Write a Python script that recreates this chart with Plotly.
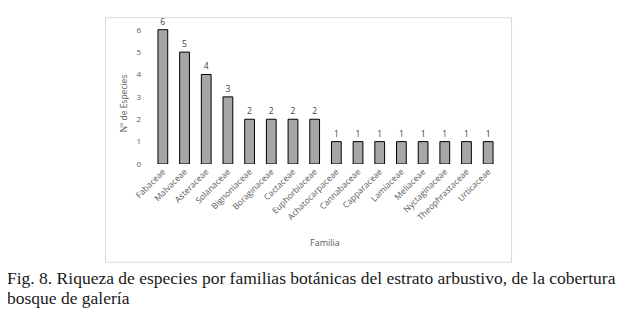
import plotly.graph_objects as go

familias = ["Fabaceae", "Malvaceae", "Asteraceae", "Solanaceae", "Bignoniaceae",
            "Boraginaceae", "Cactaceae", "Euphorbiaceae", "Achatocarpaceae",
            "Cannabaceae", "Capparaceae", "Lamiaceae", "Meliaceae",
            "Nyctaginaceae", "Theophrastaceae", "Urticaceae"]
especies = [6, 5, 4, 3, 2, 2, 2, 2, 1, 1, 1, 1, 1, 1, 1, 1]
y_ticks = [0, 1, 2, 3, 4, 5, 6]

W, H = 635, 315
OFF = 8  # page body margin
L, R, T, B = 151.6 - OFF, 635 - (499.4 - OFF), 23.3 - OFF, 315 - (164 - OFF)
PW, PH = W - L - R, H - T - B


def px(x):
    return (x - OFF - L) / PW


def py(y):
    return ((H - B) - (y - OFF)) / PH


fig = go.Figure()
fig.add_trace(go.Bar(
    x=familias, y=especies,
    marker=dict(color="#A6A6A6", line=dict(color="#000000", width=1)),
    width=0.45,
    text=[str(v) for v in especies], textposition="outside",
    textfont=dict(family="Open Sans", size=8.5, color="#404040"),
    cliponaxis=False,
))

fig.update_layout(
    width=W, height=H,
    margin=dict(l=L, r=R, t=T, b=B, pad=0),
    paper_bgcolor="white", plot_bgcolor="white",
    showlegend=False,
    xaxis=dict(
        tickangle=-45, showline=False, showgrid=False, ticks="",
        tickfont=dict(family="Open Sans", size=8.5, color="#595959"),
        range=[-0.5, len(familias) - 0.5], automargin=False,
    ),
    yaxis=dict(
        range=[0, 6.3], tickvals=y_ticks, showgrid=False, showline=False,
        zeroline=False, ticks="", ticklabelstandoff=10, automargin=False,
        tickfont=dict(family="Open Sans", size=8, color="#595959"),
    ),
    shapes=[dict(type="rect", xref="paper", yref="paper",
                 x0=px(105), x1=px(512), y0=py(262), y1=py(18),
                 line=dict(color="#D9D9D9", width=1), fillcolor="rgba(0,0,0,0)",
                 layer="below")],
    annotations=[
        dict(text="Nº de Especies", textangle=-90, xref="paper", yref="paper",
             x=px(123), y=py(103),
             showarrow=False, xanchor="center", yanchor="middle",
             font=dict(family="Open Sans", size=8.5, color="#595959")),
        dict(text="Familia", xref="paper", yref="paper",
             x=px(325), y=py(242),
             showarrow=False, xanchor="center", yanchor="middle",
             font=dict(family="Open Sans", size=9, color="#595959")),
        dict(text="Fig. 8. Riqueza de especies por familias botánicas del estrato arbustivo, de la cobertura",
             xref="paper", yref="paper",
             x=px(4), y=py(278),
             showarrow=False, xanchor="left", yanchor="middle",
             font=dict(family="Liberation Serif", size=17.5, color="#1a1a1a")),
        dict(text="bosque de galería",
             xref="paper", yref="paper",
             x=px(4), y=py(298),
             showarrow=False, xanchor="left", yanchor="middle",
             font=dict(family="Liberation Serif", size=17.5, color="#1a1a1a")),
    ],
)

fig.write_html("out.html")
